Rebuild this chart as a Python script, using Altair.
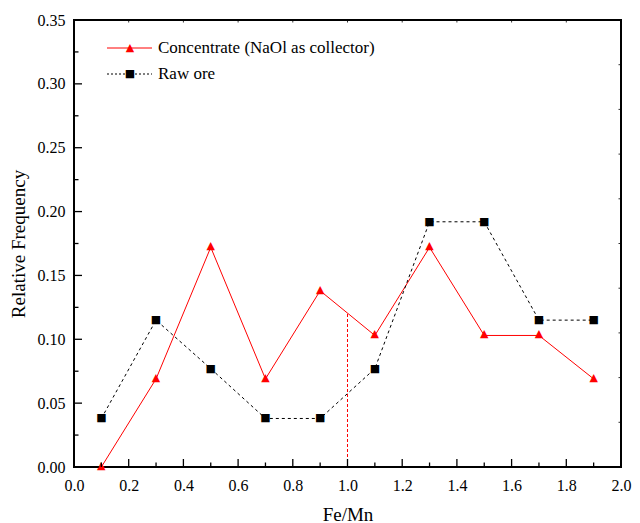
import altair as alt
import pandas as pd

# ---- data ----
fe_mn = [0.1, 0.3, 0.5, 0.7, 0.9, 1.1, 1.3, 1.5, 1.7, 1.9]
concentrate = [0.0, 0.069, 0.172, 0.069, 0.138, 0.103, 0.172, 0.103, 0.103, 0.069]
raw_ore = [0.038, 0.115, 0.077, 0.038, 0.038, 0.077, 0.192, 0.192, 0.115, 0.115]

legend_labels = ["Concentrate (NaOl as collector)", "Raw ore"]

ref_x = [1.0]
ref_y0 = [0.0]
ref_y1 = [0.12]

x_major = [0.0, 0.2, 0.4, 0.6, 0.8, 1.0, 1.2, 1.4, 1.6, 1.8, 2.0]
x_minor = [0.1, 0.3, 0.5, 0.7, 0.9, 1.1, 1.3, 1.5, 1.7, 1.9]
y_major = [0.0, 0.05, 0.10, 0.15, 0.20, 0.25, 0.30, 0.35]
y_minor = [0.025, 0.075, 0.125, 0.175, 0.225, 0.275, 0.325]
y_right = [0.035, 0.07, 0.105, 0.14, 0.175, 0.21, 0.245, 0.28, 0.315]

W, H = 547, 447
FONT = "Liberation Serif"

xs = alt.Scale(domain=[0, 2], nice=False)
ys = alt.Scale(domain=[0, 0.35], nice=False)

df_c = pd.DataFrame({"x": fe_mn, "y": concentrate})
df_r = pd.DataFrame({"x": fe_mn, "y": raw_ore})

xenc = alt.X("x:Q", scale=xs,
             axis=alt.Axis(values=x_major, format=".1f", title="Fe/Mn", grid=False,
                           ticks=False, domain=False, labelPadding=10,
                           labelFlush=False, titlePadding=12))
yenc = alt.Y("y:Q", scale=ys,
             axis=alt.Axis(values=y_major, format=".2f", title="Relative Frequency",
                           grid=False, ticks=False, domain=False, labelPadding=9,
                           labelFlush=False, titlePadding=9))

line_c = alt.Chart(df_c).mark_line(color="red", strokeWidth=1).encode(x=xenc, y=yenc)
line_r = alt.Chart(df_r).mark_line(color="black", strokeWidth=1,
                                   strokeDash=[3, 3]).encode(x="x:Q", y="y:Q")

ref = alt.Chart(pd.DataFrame({"x": ref_x, "y0": ref_y0, "y1": ref_y1})).mark_rule(
    color="red", strokeWidth=1, strokeDash=[3, 2]).encode(x="x:Q", y="y0:Q", y2="y1:Q")

# markers drawn as glyphs
pts_c = alt.Chart(df_c).mark_text(text="▲", font="DejaVu Sans", fontSize=11,
                                  color="red", baseline="middle", dy=-1).encode(
    x="x:Q", y="y:Q")
pts_r = alt.Chart(df_r).mark_text(text="■", font="DejaVu Sans", fontSize=11,
                                  color="black", baseline="middle").encode(
    x="x:Q", y="y:Q")

# ---- inward ticks, placed through the scales ----
def xticks(vals, y_from, y_to, w=1.3):
    return alt.Chart(pd.DataFrame({"x": vals})).mark_rule(
        color="black", strokeWidth=w).encode(
        x="x:Q", y=alt.value(y_from), y2=alt.value(y_to))

def yticks(vals, x_from, x_to, w=1.3):
    return alt.Chart(pd.DataFrame({"y": vals})).mark_rule(
        color="black", strokeWidth=w).encode(
        y="y:Q", x=alt.value(x_from), x2=alt.value(x_to))

ticks = [
    xticks(x_major, H, H - 8),
    xticks(x_minor, H, H - 4.5),
    xticks(x_major, 0, 2.5, 0.8),
    yticks(y_major, 0, 8),
    yticks(y_minor, 0, 4.5),
    yticks(y_right, W, W - 2.5, 0.8),
]

# ---- legend ----
def legend_entry(label, row_y, color, dash, glyph):
    rule_kw = dict(color=color, strokeWidth=1)
    if dash:
        rule_kw["strokeDash"] = dash
    ldf = pd.DataFrame({"label": [label]})
    seg = alt.Chart(ldf).mark_rule(**rule_kw).encode(
        x=alt.value(33), x2=alt.value(78), y=alt.value(row_y))
    mk = alt.Chart(ldf).mark_text(text=glyph, font="DejaVu Sans", fontSize=11,
                                  color=color, baseline="middle").encode(
        x=alt.value(56), y=alt.value(row_y))
    txt = alt.Chart(ldf).mark_text(
        align="left", baseline="middle", font=FONT, fontSize=17, color="black").encode(
        x=alt.value(84), y=alt.value(row_y), text="label:N")
    return [seg, mk, txt]

legend = legend_entry(legend_labels[0], 28, "red", None, "▲") + \
         legend_entry(legend_labels[1], 54, "black", [2, 2], "■")

chart = alt.layer(line_c, line_r, ref, pts_r, pts_c, *ticks, *legend).properties(
    width=W, height=H,
    autosize=alt.AutoSizeParams(type="none"),
    padding={"left": 66, "top": 12, "right": 11, "bottom": 56},
).configure(background="white").configure_view(
    stroke="black", strokeWidth=2
).configure_axis(
    labelFont=FONT, labelFontSize=16, labelColor="black",
    titleFont=FONT, titleFontSize=19, titleColor="black", titleFontWeight="normal",
)

chart.save("out.html", embed_options={"renderer": "svg", "actions": False})
